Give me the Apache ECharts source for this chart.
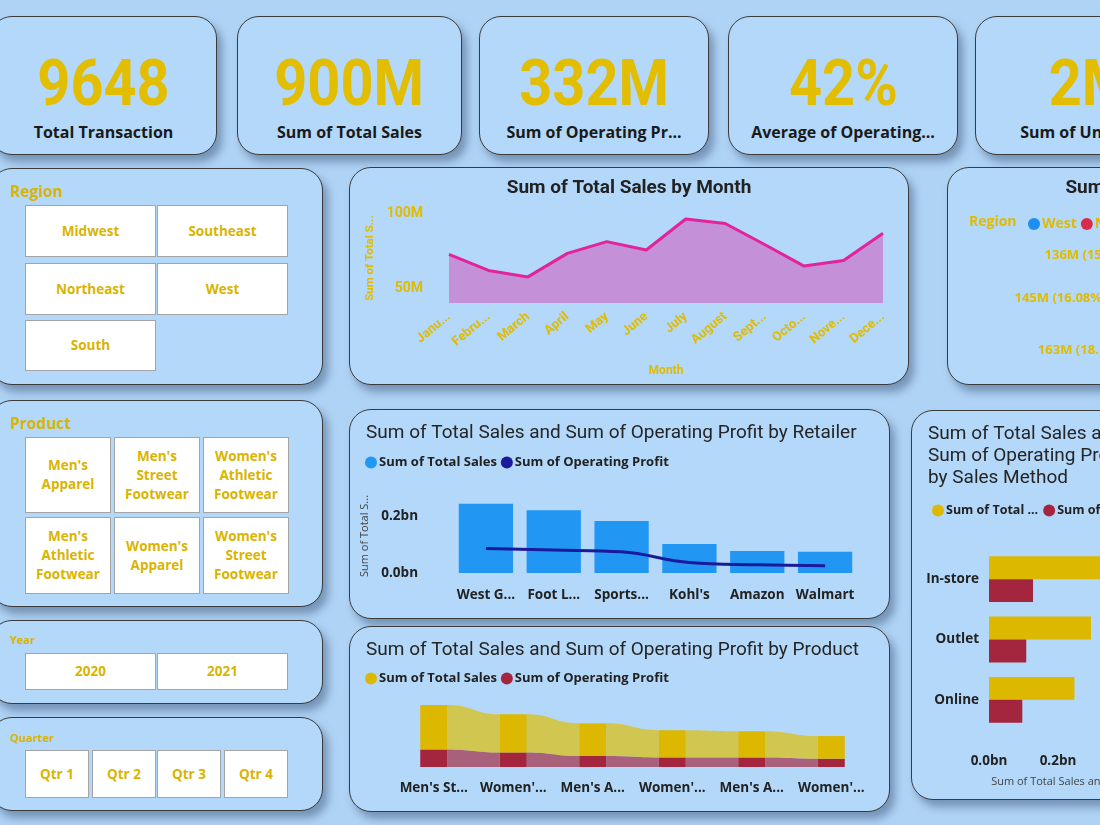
<!DOCTYPE html>
<html>
<head>
<meta charset="utf-8">
<script src="https://cdn.jsdelivr.net/npm/echarts@6/dist/echarts.min.js"></script>
<style>
  body { margin: 0; width: 1100px; height: 825px; overflow: hidden; position: relative;
         background: #afd3f5; font-family: "Open Sans", sans-serif; }
  .card { position: absolute; box-sizing: border-box; background: #b3d8f9;
          border: 1.5px solid #3b3b3b; border-radius: 22px;
          box-shadow: 5px 7px 9px rgba(70, 95, 130, 0.55); }
  .kpi-val { position: absolute; left: 0; right: 0; top: 29px; text-align: center;
             line-height: 64px; height: 64px; }
  .kpi-val span { display: inline-block; transform: scaleX(0.9); color: #e2bd00;
                  font: 700 64px Roboto, sans-serif; }
  .kpi-lbl { position: absolute; left: 0; right: 0; top: 104px; text-align: center;
             font: 700 16px/22px "Open Sans", sans-serif; color: #1a1a1a; white-space: nowrap; }
  .btn { position: absolute; box-sizing: border-box; background: #fff; border: 1.5px solid #a4a4a4;
         color: #d9b400; font: 700 13.5px/19px "Open Sans", sans-serif; display: flex; align-items: center;
         justify-content: center; text-align: center; padding: 0 7px; }
  .stitle { position: absolute; left: 10px; color: #d9b400; font-weight: 700; }
  .chart { position: absolute; }
</style>
</head>
<body>
<script>
// ---- data ----
const kpiValues = ['9648', '900M', '332M', '42%', '2M'];
const kpiLabels = ['Total Transaction', 'Sum of Total Sales', 'Sum of Operating Pr...', 'Average of Operating...', 'Sum of Units Sold'];

const regionOptions = ['Midwest', 'Southeast', 'Northeast', 'West', 'South'];
const productOptions = ["Men's Apparel", "Men's Street Footwear", "Women's Athletic Footwear",
                        "Men's Athletic Footwear", "Women's Apparel", "Women's Street Footwear"];
const yearOptions = ['2020', '2021'];
const quarterOptions = ['Qtr 1', 'Qtr 2', 'Qtr 3', 'Qtr 4'];

const months = ['January', 'February', 'March', 'April', 'May', 'June', 'July',
                'August', 'September', 'October', 'November', 'December'];
const monthSales = [72.4, 61.7, 57.4, 73.1, 80.9, 75.3, 96.0, 93.0, 79.0, 64.6, 68.4, 86.5]; // M

const regions = ['West', 'Northeast', 'Southeast', 'South', 'Midwest'];
const regionSales = [269.94, 186.32, 163.17, 144.66, 135.80]; // M

const retailers = ['West Gear', 'Foot Locker', 'Sports Direct', "Kohl's", 'Amazon', 'Walmart'];
const retailerSales = [242.96, 220.09, 182.47, 102.11, 77.70, 74.56];
const retailerProfit = [85.67, 80.72, 74.33, 36.81, 28.82, 25.78];

const products = ["Men's Street Footwear", "Women's Apparel", "Men's Athletic Footwear",
                  "Women's Street Footwear", "Men's Apparel", "Women's Athletic Footwear"];
const productSales = [208.83, 179.04, 153.67, 128.00, 123.73, 106.55];
const productProfit = [82.80, 68.65, 51.85, 45.10, 44.76, 38.98];

const methods = ['In-store', 'Outlet', 'Online'];
const methodSales = [356.64, 295.59, 247.67];
const methodProfit = [127.59, 107.99, 96.56];

// ---- layout ----
const YEL = '#e0bb00';
const CRIM = '#a4263e';
const TITLE_FONT = 'Roboto, sans-serif';
const LABEL_FONT = '"Open Sans", sans-serif';

function box(cls, l, t, w, h) {
  const d = document.createElement('div');
  d.className = cls;
  d.style.left = l + 'px'; d.style.top = t + 'px';
  d.style.width = w + 'px'; d.style.height = h + 'px';
  document.body.appendChild(d);
  return d;
}

// kpi cards
const kpiLeft = [-10, 237, 479, 728, 975];
const kpiWidth = [227, 225, 230, 230, 230];
kpiValues.forEach((v, i) => {
  const c = box('card', kpiLeft[i], 16, kpiWidth[i], 139);
  c.innerHTML = '<div class="kpi-val"><span>' + v + '</span></div><div class="kpi-lbl">' + kpiLabels[i] + '</div>';
});

// slicer cards
box('card', -10, 168, 333, 217);
box('card', -10, 400, 333, 207);
box('card', -10, 620, 333, 84);
box('card', -10, 717, 333, 94);

function stitle(text, top, size) {
  const d = document.createElement('div');
  d.className = 'stitle';
  d.style.top = top + 'px';
  d.style.fontSize = size + 'px';
  d.textContent = text;
  document.body.appendChild(d);
}
stitle('Region', 180, 15.5);
stitle('Product', 412, 15.5);
stitle('Year', 632, 11);
stitle('Quarter', 730, 11);

function buttons(opts, boxes) {
  opts.forEach((t, i) => {
    const b = boxes[i];
    box('btn', b[0], b[1], b[2], b[3]).textContent = t;
  });
}
buttons(regionOptions, [[25, 205, 131, 52], [157, 205, 131, 52], [25, 263, 131, 52], [157, 263, 131, 52], [25, 320, 131, 51]]);
buttons(productOptions, [[25, 437, 86, 76], [114, 437, 86, 76], [203, 437, 86, 76],
                         [25, 517, 86, 77], [114, 517, 86, 77], [203, 517, 86, 77]]);
buttons(yearOptions, [[25, 653, 131, 37], [157, 653, 131, 37]]);
buttons(quarterOptions, [[25, 750, 64, 48], [92, 750, 64, 48], [157, 750, 64, 48], [224, 750, 64, 48]]);

// chart cards
function chartCard(l, t, w, h) {
  box('card', l, t, w, h);
  return echarts.init(box('chart', l, t, w, h));
}
const monthChart = chartCard(349, 167, 560, 218);
const pieChart = chartCard(947, 167, 486, 218);
const retailerChart = chartCard(349, 409, 541, 210);
const productChart = chartCard(349, 626, 541, 186);
const methodChart = chartCard(911, 410, 229, 390);

const bn = v => (v / 1000).toFixed(1) + 'bn';
const chartTitle = text => ({
  text: text, left: 12, top: 8,
  textStyle: { fontFamily: TITLE_FONT, fontWeight: 'normal', fontSize: 19, color: '#252525', lineHeight: 22 }
});
const legendStyle = {
  icon: 'circle', itemWidth: 12, itemHeight: 12, itemGap: 4,
  textStyle: { fontFamily: LABEL_FONT, fontWeight: 'bold', fontSize: 13, color: '#222', padding: [0, 0, 0, -3] }
};
const axisLbl = { color: '#222', fontFamily: LABEL_FONT, fontWeight: 'bold', fontSize: 13.5 };

// month area chart
monthChart.setOption({
  textStyle: { fontFamily: TITLE_FONT },
  title: { text: 'Sum of Total Sales by Month', left: 'center', top: 7,
           textStyle: { fontFamily: TITLE_FONT, fontWeight: 'bold', fontSize: 19, color: '#222' } },
  grid: { left: 100, right: 26, top: 46, bottom: 82, outerBoundsMode: 'none' },
  xAxis: {
    type: 'category', data: months, boundaryGap: false,
    axisLine: { show: false }, axisTick: { show: false },
    axisLabel: { rotate: 40, interval: 0, margin: 12, color: YEL, fontWeight: 'bold', fontSize: 13,
                 width: 46, overflow: 'truncate', ellipsis: '...' },
    name: 'Month', nameLocation: 'middle', nameGap: 62,
    nameTextStyle: { color: YEL, fontWeight: 'bold', fontSize: 12 }
  },
  yAxis: {
    type: 'value', min: 40, max: 100, interval: 10,
    axisLabel: { formatter: v => (v === 50 || v === 100) ? v + 'M' : '', color: YEL,
                 fontWeight: 'bold', fontSize: 14, margin: 26 },
    splitLine: { show: true, lineStyle: { type: 'dotted', width: 1,
      color: ['rgba(0,0,0,0)', '#cfd6a6', 'rgba(0,0,0,0)', 'rgba(0,0,0,0)', 'rgba(0,0,0,0)', 'rgba(0,0,0,0)', '#cfd6a6'] } },
    name: 'Sum of Total S...', nameLocation: 'middle', nameGap: 72,
    nameTextStyle: { color: YEL, fontWeight: 'bold', fontSize: 11.5 }
  },
  series: [{
    type: 'line', data: monthSales, symbol: 'none',
    lineStyle: { color: '#e3239b', width: 3 },
    areaStyle: { color: '#c491d8', opacity: 1 }
  }]
});

// region pie (mostly outside the window)
pieChart.setOption({
  textStyle: { fontFamily: LABEL_FONT },
  title: [
    { text: 'Sum of Total Sales by Region', left: 'center', top: 7,
      textStyle: { fontFamily: TITLE_FONT, fontWeight: 'bold', fontSize: 19, color: '#222' } },
    { text: 'Region', left: 17, top: 43, textStyle: { fontFamily: LABEL_FONT, fontWeight: 'bold', fontSize: 14, color: YEL } }
  ],
  color: ['#1f8ef1', '#d62d4a', '#e3bd00', '#1b1b9e', '#8e3fb0'],
  legend: Object.assign({}, legendStyle, {
    left: 76, top: 45, data: regions,
    textStyle: { fontFamily: LABEL_FONT, fontWeight: 'bold', fontSize: 14, color: YEL, padding: [0, 0, 0, -3] }
  }),
  series: [{
    type: 'pie', center: [228, 138], radius: 48, startAngle: 90, clockwise: true,
    data: regions.map((r, i) => ({ name: r, value: regionSales[i] })),
    label: { color: YEL, fontFamily: LABEL_FONT, fontWeight: 'bold', fontSize: 13,
             formatter: p => Math.round(p.value) + 'M (' + p.percent.toFixed(2) + '%)' },
    labelLine: { length: 8, length2: 8, lineStyle: { color: '#8a8a8a' } }
  }]
});

// retailer bar + line
retailerChart.setOption({
  textStyle: { fontFamily: LABEL_FONT },
  title: chartTitle('Sum of Total Sales and Sum of Operating Profit by Retailer'),
  legend: Object.assign({}, legendStyle, { left: 11, top: 42, data: ['Sum of Total Sales', 'Sum of Operating Profit'] }),
  grid: { left: 103, right: 31, top: 90, bottom: 46, outerBoundsMode: 'none' },
  xAxis: {
    type: 'category', data: retailers, axisLine: { show: false }, axisTick: { show: false },
    axisLabel: Object.assign({ interval: 0, margin: 15, width: 62, overflow: 'truncate', ellipsis: '...' }, axisLbl)
  },
  yAxis: {
    type: 'value', min: 0, max: 260, interval: 200, splitLine: { show: false },
    axisLabel: Object.assign({ formatter: bn, showMaxLabel: false, margin: 34 }, axisLbl),
    name: 'Sum of Total S...', nameLocation: 'middle', nameGap: 78,
    nameTextStyle: { color: '#444', fontSize: 11 }
  },
  series: [
    { name: 'Sum of Total Sales', type: 'bar', data: retailerSales, barCategoryGap: '20%',
      itemStyle: { color: '#2196f3' } },
    { name: 'Sum of Operating Profit', type: 'line', smooth: 0.4, data: retailerProfit, symbol: 'none',
      lineStyle: { color: '#1a1a9c', width: 3 }, itemStyle: { color: '#1a1a9c' } }
  ]
});

// product ribbon chart: stacked columns plus ribbons between them
function ribbonItem(params, api) {
  const i = params.dataIndex;
  if (i >= products.length - 1) return { type: 'group', children: [] };
  const half = api.size([1, 0])[0] * 0.17;
  const xr = api.coord([i, 0])[0] + half;
  const xn = api.coord([i + 1, 0])[0] - half;
  const mid = (xr + xn) / 2;
  const y0 = api.coord([i, 0])[1];
  const yP = api.coord([i, productProfit[i]])[1];
  const yT = api.coord([i, productProfit[i] + productSales[i]])[1];
  const yPn = api.coord([i + 1, productProfit[i + 1]])[1];
  const yTn = api.coord([i + 1, productProfit[i + 1] + productSales[i + 1]])[1];
  const curve = (ya, yb) => 'C' + mid + ',' + ya + ' ' + mid + ',' + yb + ' ' + xn + ',' + yb;
  const back = (yb, ya) => 'C' + mid + ',' + yb + ' ' + mid + ',' + ya + ' ' + xr + ',' + ya;
  return {
    type: 'group',
    children: [
      { type: 'path', shape: { pathData: 'M' + xr + ',' + y0 + 'L' + xr + ',' + yP + curve(yP, yPn) + 'L' + xn + ',' + y0 + 'Z' },
        style: { fill: 'rgba(163,38,62,0.68)' } },
      { type: 'path', shape: { pathData: 'M' + xr + ',' + yP + 'L' + xr + ',' + yT + curve(yT, yTn) + 'L' + xn + ',' + yPn + back(yPn, yP) + 'Z' },
        style: { fill: 'rgba(222,188,0,0.68)' } }
    ]
  };
}
productChart.setOption({
  textStyle: { fontFamily: LABEL_FONT },
  title: chartTitle('Sum of Total Sales and Sum of Operating Profit by Product'),
  legend: Object.assign({}, legendStyle, { left: 11, top: 41, data: ['Sum of Total Sales', 'Sum of Operating Profit'] }),
  grid: { left: 45, right: 19, top: 73, bottom: 45, outerBoundsMode: 'none' },
  xAxis: {
    type: 'category', data: products, axisLine: { show: false }, axisTick: { show: false },
    axisLabel: Object.assign({ interval: 0, margin: 14, width: 70, overflow: 'truncate', ellipsis: '...' }, axisLbl)
  },
  yAxis: { type: 'value', min: 0, max: 320, show: false },
  series: [
    { type: 'custom', renderItem: ribbonItem, data: products.map((p, i) => i), z: 1, silent: true },
    { name: 'Sum of Operating Profit', type: 'bar', stack: 'total', data: productProfit, barWidth: '34%',
      itemStyle: { color: CRIM }, z: 2 },
    { name: 'Sum of Total Sales', type: 'bar', stack: 'total', data: productSales, barWidth: '34%',
      itemStyle: { color: '#ddb800' }, z: 2 }
  ]
});

// sales method clustered bars
methodChart.setOption({
  textStyle: { fontFamily: LABEL_FONT },
  title: chartTitle('Sum of Total Sales and\nSum of Operating Profit\nby Sales Method'),
  legend: Object.assign({}, legendStyle, {
    left: 16, top: 89, width: 400, data: ['Sum of Total Sales', 'Sum of Operating Profit'], itemGap: 5,
    textStyle: { fontFamily: LABEL_FONT, fontWeight: 'bold', fontSize: 12.5, color: '#222', padding: [0, 0, 0, -3],
                 width: 96, overflow: 'truncate', ellipsis: '...' }
  }),
  grid: { left: 78, right: 13, top: 139, bottom: 70, outerBoundsMode: 'none' },
  yAxis: {
    type: 'category', inverse: true, data: methods, axisLine: { show: false }, axisTick: { show: false },
    axisLabel: Object.assign({ margin: 10 }, axisLbl)
  },
  xAxis: {
    type: 'value', min: 0, max: 400, interval: 200, splitLine: { show: false },
    axisLabel: Object.assign({ formatter: bn, margin: 24 }, axisLbl),
    name: 'Sum of Total Sales and Sum of Operating Profit', nameLocation: 'middle', nameGap: 46,
    nameTruncate: { maxWidth: 138, ellipsis: '...' },
    nameTextStyle: { color: '#444', fontSize: 11 }
  },
  series: [
    { name: 'Sum of Total Sales', type: 'bar', data: methodSales, barGap: '0%', barCategoryGap: '24%',
      itemStyle: { color: '#ddb800' } },
    { name: 'Sum of Operating Profit', type: 'bar', data: methodProfit, itemStyle: { color: CRIM } }
  ]
});
</script>
</body>
</html>
